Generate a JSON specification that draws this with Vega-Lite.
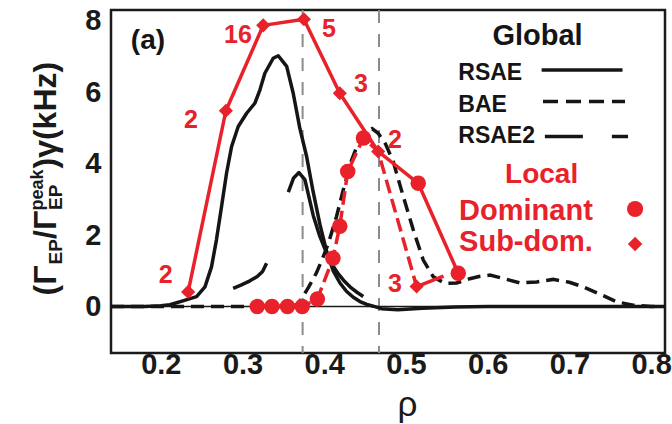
{
  "$schema": "https://vega.github.io/schema/vega-lite/v6.json",
  "width": 554,
  "height": 343,
  "autosize": {"type": "none"},
  "padding": {"left": 111, "top": 10, "right": 7, "bottom": 71},
  "background": "white",
  "config": {
    "view": {"stroke": "#1a1a1a", "strokeWidth": 2.5},
    "font": "Liberation Sans",
    "axis": {
      "grid": false, "domain": false, "ticks": false, "tickSize": 0,
      "labelFont": "Liberation Sans", "labelFontWeight": "bold", "labelFontSize": 29, "labelColor": "#1a1a1a",
      "titleColor": "#1a1a1a", "titleFont": "Liberation Sans", "titleFontWeight": "bold"
    }
  },
  "datasets": {
    "vlines": [{"rho": 0.3735}, {"rho": 0.467}],
    "zero": [{"val": 0}],
    "xticks": [
      {"rho": 0.16, "kind": "minor"}, {"rho": 0.18, "kind": "minor"}, {"rho": 0.2, "kind": "major"},
      {"rho": 0.22, "kind": "minor"}, {"rho": 0.24, "kind": "minor"}, {"rho": 0.26, "kind": "minor"}, {"rho": 0.28, "kind": "minor"}, {"rho": 0.3, "kind": "major"},
      {"rho": 0.32, "kind": "minor"}, {"rho": 0.34, "kind": "minor"}, {"rho": 0.36, "kind": "minor"}, {"rho": 0.38, "kind": "minor"}, {"rho": 0.4, "kind": "major"},
      {"rho": 0.42, "kind": "minor"}, {"rho": 0.44, "kind": "minor"}, {"rho": 0.46, "kind": "minor"}, {"rho": 0.48, "kind": "minor"}, {"rho": 0.5, "kind": "major"},
      {"rho": 0.52, "kind": "minor"}, {"rho": 0.54, "kind": "minor"}, {"rho": 0.56, "kind": "minor"}, {"rho": 0.58, "kind": "minor"}, {"rho": 0.6, "kind": "major"},
      {"rho": 0.62, "kind": "minor"}, {"rho": 0.64, "kind": "minor"}, {"rho": 0.66, "kind": "minor"}, {"rho": 0.68, "kind": "minor"}, {"rho": 0.7, "kind": "major"},
      {"rho": 0.72, "kind": "minor"}, {"rho": 0.74, "kind": "minor"}, {"rho": 0.76, "kind": "minor"}, {"rho": 0.78, "kind": "minor"}, {"rho": 0.8, "kind": "major"}
    ],
    "yticks": [
      {"val": -1, "kind": "minor"}, {"val": -0.5, "kind": "minor"}, {"val": 0, "kind": "major"}, {"val": 0.5, "kind": "minor"},
      {"val": 1, "kind": "minor"}, {"val": 1.5, "kind": "minor"}, {"val": 2, "kind": "major"}, {"val": 2.5, "kind": "minor"},
      {"val": 3, "kind": "minor"}, {"val": 3.5, "kind": "minor"}, {"val": 4, "kind": "major"}, {"val": 4.5, "kind": "minor"},
      {"val": 5, "kind": "minor"}, {"val": 5.5, "kind": "minor"}, {"val": 6, "kind": "major"}, {"val": 6.5, "kind": "minor"},
      {"val": 7, "kind": "minor"}, {"val": 7.5, "kind": "minor"}, {"val": 8, "kind": "major"}
    ],
    "curves": [
      {"curve": "RSAE", "seg": "r", "rho": 0.139, "val": 0},
      {"curve": "RSAE", "seg": "r", "rho": 0.18, "val": 0},
      {"curve": "RSAE", "seg": "r", "rho": 0.2, "val": 0.02},
      {"curve": "RSAE", "seg": "r", "rho": 0.211, "val": 0.05},
      {"curve": "RSAE", "seg": "r", "rho": 0.227, "val": 0.16},
      {"curve": "RSAE", "seg": "r", "rho": 0.2437, "val": 0.28},
      {"curve": "RSAE", "seg": "r", "rho": 0.254, "val": 0.55},
      {"curve": "RSAE", "seg": "r", "rho": 0.262, "val": 1.11},
      {"curve": "RSAE", "seg": "r", "rho": 0.268, "val": 1.86},
      {"curve": "RSAE", "seg": "r", "rho": 0.2743, "val": 2.8},
      {"curve": "RSAE", "seg": "r", "rho": 0.2804, "val": 3.73},
      {"curve": "RSAE", "seg": "r", "rho": 0.2866, "val": 4.48},
      {"curve": "RSAE", "seg": "r", "rho": 0.2947, "val": 5.04},
      {"curve": "RSAE", "seg": "r", "rho": 0.305, "val": 5.41},
      {"curve": "RSAE", "seg": "r", "rho": 0.315, "val": 5.69},
      {"curve": "RSAE", "seg": "r", "rho": 0.3212, "val": 6.06},
      {"curve": "RSAE", "seg": "r", "rho": 0.3273, "val": 6.53},
      {"curve": "RSAE", "seg": "r", "rho": 0.3375, "val": 6.95},
      {"curve": "RSAE", "seg": "r", "rho": 0.3437, "val": 7.02},
      {"curve": "RSAE", "seg": "r", "rho": 0.354, "val": 6.72},
      {"curve": "RSAE", "seg": "r", "rho": 0.362, "val": 5.97},
      {"curve": "RSAE", "seg": "r", "rho": 0.37, "val": 5.0},
      {"curve": "RSAE", "seg": "r", "rho": 0.3784, "val": 4.2},
      {"curve": "RSAE", "seg": "r", "rho": 0.3865, "val": 3.2},
      {"curve": "RSAE", "seg": "r", "rho": 0.3947, "val": 2.3},
      {"curve": "RSAE", "seg": "r", "rho": 0.4028, "val": 1.55},
      {"curve": "RSAE", "seg": "r", "rho": 0.411, "val": 1.0},
      {"curve": "RSAE", "seg": "r", "rho": 0.4192, "val": 0.66},
      {"curve": "RSAE", "seg": "r", "rho": 0.4274, "val": 0.42},
      {"curve": "RSAE", "seg": "r", "rho": 0.4355, "val": 0.26},
      {"curve": "RSAE", "seg": "r", "rho": 0.4437, "val": 0.14},
      {"curve": "RSAE", "seg": "r", "rho": 0.452, "val": 0.06},
      {"curve": "RSAE", "seg": "r", "rho": 0.46, "val": 0.01},
      {"curve": "RSAE", "seg": "r", "rho": 0.47, "val": -0.06},
      {"curve": "RSAE", "seg": "r", "rho": 0.49, "val": -0.09},
      {"curve": "RSAE", "seg": "r", "rho": 0.52, "val": -0.05},
      {"curve": "RSAE", "seg": "r", "rho": 0.56, "val": -0.01},
      {"curve": "RSAE", "seg": "r", "rho": 0.6, "val": 0},
      {"curve": "RSAE", "seg": "r", "rho": 0.817, "val": 0},
      {"curve": "RSAE2", "seg": "a", "rho": 0.2885, "val": 0.51},
      {"curve": "RSAE2", "seg": "a", "rho": 0.298, "val": 0.6},
      {"curve": "RSAE2", "seg": "a", "rho": 0.309, "val": 0.72},
      {"curve": "RSAE2", "seg": "a", "rho": 0.318, "val": 0.84},
      {"curve": "RSAE2", "seg": "a", "rho": 0.3245, "val": 0.98},
      {"curve": "RSAE2", "seg": "a", "rho": 0.3294, "val": 1.21},
      {"curve": "RSAE2", "seg": "b", "rho": 0.356, "val": 3.2},
      {"curve": "RSAE2", "seg": "b", "rho": 0.3625, "val": 3.6},
      {"curve": "RSAE2", "seg": "b", "rho": 0.369, "val": 3.75},
      {"curve": "RSAE2", "seg": "b", "rho": 0.3763, "val": 3.55},
      {"curve": "RSAE2", "seg": "b", "rho": 0.3865, "val": 2.55},
      {"curve": "RSAE2", "seg": "b", "rho": 0.394, "val": 2.0},
      {"curve": "RSAE2", "seg": "b", "rho": 0.401, "val": 1.6},
      {"curve": "RSAE2", "seg": "b", "rho": 0.409, "val": 1.2},
      {"curve": "RSAE2", "seg": "b", "rho": 0.417, "val": 0.92},
      {"curve": "RSAE2", "seg": "b", "rho": 0.425, "val": 0.7},
      {"curve": "RSAE2", "seg": "b", "rho": 0.433, "val": 0.52},
      {"curve": "RSAE2", "seg": "b", "rho": 0.44, "val": 0.4},
      {"curve": "RSAE2", "seg": "b", "rho": 0.4477, "val": 0.28},
      {"curve": "BAE", "seg": "d", "rho": 0.139, "val": 0},
      {"curve": "BAE", "seg": "d", "rho": 0.36, "val": 0},
      {"curve": "BAE", "seg": "d", "rho": 0.366, "val": 0.05},
      {"curve": "BAE", "seg": "d", "rho": 0.3723, "val": 0.22},
      {"curve": "BAE", "seg": "d", "rho": 0.381, "val": 0.55},
      {"curve": "BAE", "seg": "d", "rho": 0.3906, "val": 0.95},
      {"curve": "BAE", "seg": "d", "rho": 0.398, "val": 1.35},
      {"curve": "BAE", "seg": "d", "rho": 0.405, "val": 1.77},
      {"curve": "BAE", "seg": "d", "rho": 0.415, "val": 2.52},
      {"curve": "BAE", "seg": "d", "rho": 0.4232, "val": 3.26},
      {"curve": "BAE", "seg": "d", "rho": 0.4335, "val": 4.1},
      {"curve": "BAE", "seg": "d", "rho": 0.442, "val": 4.6},
      {"curve": "BAE", "seg": "d", "rho": 0.45, "val": 4.88},
      {"curve": "BAE", "seg": "d", "rho": 0.4585, "val": 4.98},
      {"curve": "BAE", "seg": "d", "rho": 0.466, "val": 4.85},
      {"curve": "BAE", "seg": "d", "rho": 0.475, "val": 4.55},
      {"curve": "BAE", "seg": "d", "rho": 0.4845, "val": 4.05},
      {"curve": "BAE", "seg": "d", "rho": 0.4967, "val": 3.08},
      {"curve": "BAE", "seg": "d", "rho": 0.509, "val": 2.14},
      {"curve": "BAE", "seg": "d", "rho": 0.5212, "val": 1.3},
      {"curve": "BAE", "seg": "d", "rho": 0.5335, "val": 0.83},
      {"curve": "BAE", "seg": "d", "rho": 0.5477, "val": 0.65},
      {"curve": "BAE", "seg": "d", "rho": 0.562, "val": 0.66},
      {"curve": "BAE", "seg": "d", "rho": 0.578, "val": 0.78},
      {"curve": "BAE", "seg": "d", "rho": 0.5906, "val": 0.85},
      {"curve": "BAE", "seg": "d", "rho": 0.6028, "val": 0.88},
      {"curve": "BAE", "seg": "d", "rho": 0.62, "val": 0.78},
      {"curve": "BAE", "seg": "d", "rho": 0.6396, "val": 0.66},
      {"curve": "BAE", "seg": "d", "rho": 0.66, "val": 0.69},
      {"curve": "BAE", "seg": "d", "rho": 0.68, "val": 0.76},
      {"curve": "BAE", "seg": "d", "rho": 0.7, "val": 0.68},
      {"curve": "BAE", "seg": "d", "rho": 0.717, "val": 0.55},
      {"curve": "BAE", "seg": "d", "rho": 0.74, "val": 0.32},
      {"curve": "BAE", "seg": "d", "rho": 0.758, "val": 0.13},
      {"curve": "BAE", "seg": "d", "rho": 0.778, "val": 0.04},
      {"curve": "BAE", "seg": "d", "rho": 0.8, "val": 0},
      {"curve": "BAE", "seg": "d", "rho": 0.812, "val": 0}
    ],
    "local": [
      {"line": "A", "rho": 0.2334, "val": 0.41, "mode": "Sub-dom."},
      {"line": "A", "rho": 0.2796, "val": 5.48, "mode": "Sub-dom."},
      {"line": "A", "rho": 0.3253, "val": 7.87, "mode": "Sub-dom."},
      {"line": "A", "rho": 0.3751, "val": 8.04, "mode": "Sub-dom."},
      {"line": "A", "rho": 0.419, "val": 5.97, "mode": "Sub-dom."},
      {"line": "A", "rho": 0.466, "val": 4.34, "mode": "Sub-dom."},
      {"line": "A", "rho": 0.515, "val": 3.45, "mode": "Dominant"},
      {"line": "A", "rho": 0.564, "val": 0.93, "mode": "Dominant"},
      {"line": "B", "rho": 0.318, "val": 0, "mode": "Dominant"},
      {"line": "B", "rho": 0.336, "val": 0, "mode": "Dominant"},
      {"line": "B", "rho": 0.355, "val": 0, "mode": "Dominant"},
      {"line": "B", "rho": 0.373, "val": 0, "mode": "Dominant"},
      {"line": "B", "rho": 0.3916, "val": 0.21, "mode": "Dominant"},
      {"line": "B", "rho": 0.4106, "val": 1.35, "mode": "Dominant"},
      {"line": "B", "rho": 0.419, "val": 2.25, "mode": "Dominant"},
      {"line": "B", "rho": 0.4287, "val": 3.78, "mode": "Dominant"},
      {"line": "B", "rho": 0.448, "val": 4.72, "mode": "Dominant"},
      {"line": "B", "rho": 0.466, "val": 4.34, "mode": "none"},
      {"line": "B", "rho": 0.513, "val": 0.56, "mode": "Sub-dom."},
      {"line": "C", "rho": 0.513, "val": 0.56, "mode": "none"},
      {"line": "C", "rho": 0.546, "val": 0.85, "mode": "none"}
    ],
    "ann": [
      {"label": "16", "rho": 0.2943, "val": 7.38},
      {"label": "5", "rho": 0.4057, "val": 7.55},
      {"label": "2", "rho": 0.2367, "val": 5.0},
      {"label": "2", "rho": 0.2061, "val": 0.66},
      {"label": "3", "rho": 0.4449, "val": 6.01},
      {"label": "2", "rho": 0.4865, "val": 4.44},
      {"label": "3", "rho": 0.4865, "val": 0.41}
    ],
    "panel": [{"label": "(a)", "rho": 0.1633, "val": 7.21}],
    "headers": [
      {"label": "Global", "grp": "Global", "rho": 0.661, "val": 7.325},
      {"label": "Local", "grp": "Local", "rho": 0.666, "val": 3.46}
    ],
    "items": [
      {"label": "RSAE", "grp": "Global", "rho": 0.564, "val": 6.34},
      {"label": "BAE", "grp": "Global", "rho": 0.564, "val": 5.45},
      {"label": "RSAE2", "grp": "Global", "rho": 0.564, "val": 4.58},
      {"label": "Dominant", "grp": "Local", "rho": 0.565, "val": 2.42},
      {"label": "Sub-dom.", "grp": "Local", "rho": 0.565, "val": 1.555}
    ],
    "leglines": [
      {"curve": "RSAE", "rho": 0.666, "val": 6.62},
      {"curve": "RSAE", "rho": 0.765, "val": 6.62},
      {"curve": "BAE", "rho": 0.6677, "val": 5.74},
      {"curve": "BAE", "rho": 0.7681, "val": 5.74},
      {"curve": "RSAE2", "rho": 0.67, "val": 4.76},
      {"curve": "RSAE2", "rho": 0.7718, "val": 4.76}
    ],
    "legsym": [
      {"mode": "Dominant", "rho": 0.7804, "val": 2.73},
      {"mode": "Sub-dom.", "rho": 0.7804, "val": 1.75}
    ]
  },
  "layer": [
    {
      "data": {"name": "vlines"},
      "mark": {"type": "rule", "color": "#8c8c8c", "strokeWidth": 2, "strokeDash": [13, 11]},
      "encoding": {
        "x": {"field": "rho", "type": "quantitative", "scale": {"domain": [0.139, 0.817], "nice": false, "zero": false}, "axis": null}
      }
    },
    {
      "data": {"name": "zero"},
      "mark": {"type": "rule", "color": "#1a1a1a", "strokeWidth": 1.5},
      "encoding": {
        "y": {"field": "val", "type": "quantitative", "scale": {"domain": [-1.3, 8.3], "nice": false, "zero": false}, "axis": null}
      }
    },
    {
      "encoding": {
        "x": {"field": "rho", "type": "quantitative", "scale": {"domain": [0.139, 0.817], "nice": false, "zero": false},
          "axis": {"orient": "bottom", "values": [0.2, 0.3, 0.4, 0.5, 0.6, 0.7, 0.8], "format": ".1f",
            "labelPadding": -3, "labelFlush": false, "labelOverlap": false,
            "title": "ρ", "titleFontWeight": "normal", "titleFontSize": 35, "titleX": 296, "titleY": 62,
            "titleAlign": "center", "titleBaseline": "alphabetic", "titleAngle": 0}},
        "y": {"field": "val", "type": "quantitative", "scale": {"domain": [-1.3, 8.3], "nice": false, "zero": false},
          "axis": {"orient": "left", "values": [0, 2, 4, 6, 8], "format": "d",
            "labelPadding": 10, "labelOverlap": false,
            "title": "(Γ", "titleFontSize": 32, "titleAngle": 270, "titleAlign": "left", "titleBaseline": "alphabetic",
            "titleX": -56, "titleY": 285}}
      },
      "layer": [
        {
          "data": {"name": "xticks"},
          "transform": [{"filter": "datum.kind === 'major'"}],
          "mark": {"type": "rule", "color": "#1a1a1a", "strokeWidth": 2.2},
          "encoding": {"y": {"datum": -1.3}, "y2": {"datum": -1.104}}
        },
        {
          "data": {"name": "xticks"},
          "transform": [{"filter": "datum.kind === 'minor'"}],
          "mark": {"type": "rule", "color": "#1a1a1a", "strokeWidth": 2.2},
          "encoding": {"y": {"datum": -1.3}, "y2": {"datum": -1.176}}
        },
        {
          "data": {"name": "xticks"},
          "transform": [{"filter": "datum.kind === 'major'"}],
          "mark": {"type": "rule", "color": "#1a1a1a", "strokeWidth": 2.2},
          "encoding": {"y": {"datum": 8.3}, "y2": {"datum": 8.104}}
        },
        {
          "data": {"name": "xticks"},
          "transform": [{"filter": "datum.kind === 'minor'"}],
          "mark": {"type": "rule", "color": "#1a1a1a", "strokeWidth": 2.2},
          "encoding": {"y": {"datum": 8.3}, "y2": {"datum": 8.176}}
        },
        {
          "data": {"name": "yticks"},
          "transform": [{"filter": "datum.kind === 'major'"}],
          "mark": {"type": "rule", "color": "#1a1a1a", "strokeWidth": 2.2},
          "encoding": {"x": {"datum": 0.139}, "x2": {"datum": 0.1476}}
        },
        {
          "data": {"name": "yticks"},
          "transform": [{"filter": "datum.kind === 'minor'"}],
          "mark": {"type": "rule", "color": "#1a1a1a", "strokeWidth": 2.2},
          "encoding": {"x": {"datum": 0.139}, "x2": {"datum": 0.1444}}
        },
        {
          "data": {"name": "yticks"},
          "transform": [{"filter": "datum.kind === 'major'"}],
          "mark": {"type": "rule", "color": "#1a1a1a", "strokeWidth": 2.2},
          "encoding": {"x": {"datum": 0.817}, "x2": {"datum": 0.8084}}
        },
        {
          "data": {"name": "yticks"},
          "transform": [{"filter": "datum.kind === 'minor'"}],
          "mark": {"type": "rule", "color": "#1a1a1a", "strokeWidth": 2.2},
          "encoding": {"x": {"datum": 0.817}, "x2": {"datum": 0.8116}}
        },
        {
          "data": {"name": "curves"},
          "transform": [{"filter": "datum.curve === 'BAE'"}],
          "mark": {"type": "line", "color": "#151515", "strokeWidth": 3.5, "strokeDash": [13, 7]}
        },
        {
          "data": {"name": "curves"},
          "transform": [{"filter": "datum.curve === 'RSAE'"}],
          "mark": {"type": "line", "color": "#151515", "strokeWidth": 3.5, "strokeJoin": "round"}
        },
        {
          "data": {"name": "curves"},
          "transform": [{"filter": "datum.curve === 'RSAE2'"}],
          "mark": {"type": "line", "color": "#151515", "strokeWidth": 3.5, "strokeJoin": "round"},
          "encoding": {"detail": {"field": "seg"}}
        },
        {
          "data": {"name": "local"},
          "transform": [{"filter": "datum.line === 'B'"}],
          "mark": {"type": "line", "color": "#e8212a", "strokeWidth": 3.5, "strokeDash": [14, 6]}
        },
        {
          "data": {"name": "local"},
          "transform": [{"filter": "datum.line !== 'B'"}],
          "mark": {"type": "line", "color": "#e8212a", "strokeWidth": 3.5, "strokeJoin": "round"},
          "encoding": {"detail": {"field": "line"}}
        },
        {
          "data": {"name": "local"},
          "transform": [{"filter": "datum.mode !== 'none'"}],
          "mark": {"type": "point", "filled": true, "color": "#e8212a", "opacity": 1},
          "encoding": {
            "shape": {"field": "mode", "type": "nominal", "scale": {"domain": ["Dominant", "Sub-dom."], "range": ["circle", "diamond"]}, "legend": null},
            "size": {"condition": {"test": "datum.mode === 'Dominant'", "value": 240}, "value": 200}
          }
        },
        {
          "data": {"name": "panel"},
          "mark": {"type": "text", "font": "Liberation Sans", "fontWeight": "bold", "fontSize": 28, "color": "#151515", "align": "left", "baseline": "alphabetic"},
          "encoding": {"text": {"field": "label"}}
        }
      ]
    },
    {
      "data": {"name": "ann"},
      "mark": {"type": "text", "font": "Liberation Sans", "fontWeight": "bold", "fontSize": 25, "color": "#e8212a", "align": "center", "baseline": "alphabetic"},
      "encoding": {
        "x": {"field": "rho", "type": "quantitative", "scale": {"domain": [0.139, 0.817], "nice": false, "zero": false}, "axis": null},
        "y": {"field": "val", "type": "quantitative", "scale": {"domain": [-1.3, 8.3], "nice": false, "zero": false},
          "axis": {"orient": "left", "labels": false,
            "title": "EP", "titleFontSize": 19, "titleAngle": 270, "titleAlign": "left", "titleBaseline": "alphabetic", "titleX": -50, "titleY": 254}},
        "text": {"field": "label"}
      }
    },
    {
      "data": {"name": "headers"},
      "mark": {"type": "text", "font": "Liberation Sans", "fontWeight": "bold", "align": "center", "baseline": "alphabetic"},
      "encoding": {
        "x": {"field": "rho", "type": "quantitative", "scale": {"domain": [0.139, 0.817], "nice": false, "zero": false}, "axis": null},
        "y": {"field": "val", "type": "quantitative", "scale": {"domain": [-1.3, 8.3], "nice": false, "zero": false},
          "axis": {"orient": "left", "labels": false,
            "title": "/Γ", "titleFontSize": 32, "titleAngle": 270, "titleAlign": "left", "titleBaseline": "alphabetic", "titleX": -56, "titleY": 228.5}},
        "text": {"field": "label"},
        "color": {"field": "grp", "type": "nominal", "scale": {"domain": ["Global", "Local"], "range": ["#151515", "#e8212a"]}, "legend": null},
        "size": {"condition": {"test": "datum.grp === 'Local'", "value": 28}, "value": 29}
      }
    },
    {
      "data": {"name": "items"},
      "mark": {"type": "text", "font": "Liberation Sans", "fontWeight": "bold", "align": "left", "baseline": "alphabetic"},
      "encoding": {
        "x": {"field": "rho", "type": "quantitative", "scale": {"domain": [0.139, 0.817], "nice": false, "zero": false}, "axis": null},
        "y": {"field": "val", "type": "quantitative", "scale": {"domain": [-1.3, 8.3], "nice": false, "zero": false},
          "axis": {"orient": "left", "labels": false,
            "title": "EP", "titleFontSize": 19, "titleAngle": 270, "titleAlign": "left", "titleBaseline": "alphabetic", "titleX": -50, "titleY": 199.5}},
        "text": {"field": "label"},
        "color": {"field": "grp", "type": "nominal", "scale": {"domain": ["Global", "Local"], "range": ["#151515", "#e8212a"]}, "legend": null},
        "size": {"condition": {"test": "datum.grp === 'Local'", "value": 29}, "value": 23}
      }
    },
    {
      "data": {"name": "leglines"},
      "mark": {"type": "line", "color": "#151515", "strokeWidth": 3.5},
      "encoding": {
        "x": {"field": "rho", "type": "quantitative", "scale": {"domain": [0.139, 0.817], "nice": false, "zero": false}, "axis": null},
        "y": {"field": "val", "type": "quantitative", "scale": {"domain": [-1.3, 8.3], "nice": false, "zero": false},
          "axis": {"orient": "left", "labels": false,
            "title": "peak", "titleFontSize": 18, "titleAngle": 270, "titleAlign": "left", "titleBaseline": "alphabetic", "titleX": -69, "titleY": 200}},
        "strokeDash": {"field": "curve", "type": "nominal", "scale": {"domain": ["RSAE", "BAE", "RSAE2"], "range": [[1, 0], [15, 8], [38, 29, 17, 60]]}, "legend": null}
      }
    },
    {
      "data": {"name": "legsym"},
      "mark": {"type": "point", "filled": true, "color": "#e8212a", "opacity": 1},
      "encoding": {
        "x": {"field": "rho", "type": "quantitative", "scale": {"domain": [0.139, 0.817], "nice": false, "zero": false}, "axis": null},
        "y": {"field": "val", "type": "quantitative", "scale": {"domain": [-1.3, 8.3], "nice": false, "zero": false},
          "axis": {"orient": "left", "labels": false,
            "title": ")γ(kHz)", "titleFontSize": 32, "titleAngle": 270, "titleAlign": "left", "titleBaseline": "alphabetic", "titleX": -56, "titleY": 158}},
        "shape": {"field": "mode", "type": "nominal", "scale": {"domain": ["Dominant", "Sub-dom."], "range": ["circle", "diamond"]}, "legend": null},
        "size": {"condition": {"test": "datum.mode === 'Dominant'", "value": 260}, "value": 210}
      }
    }
  ],
  "resolve": {"axis": {"x": "independent", "y": "independent"}}
}
